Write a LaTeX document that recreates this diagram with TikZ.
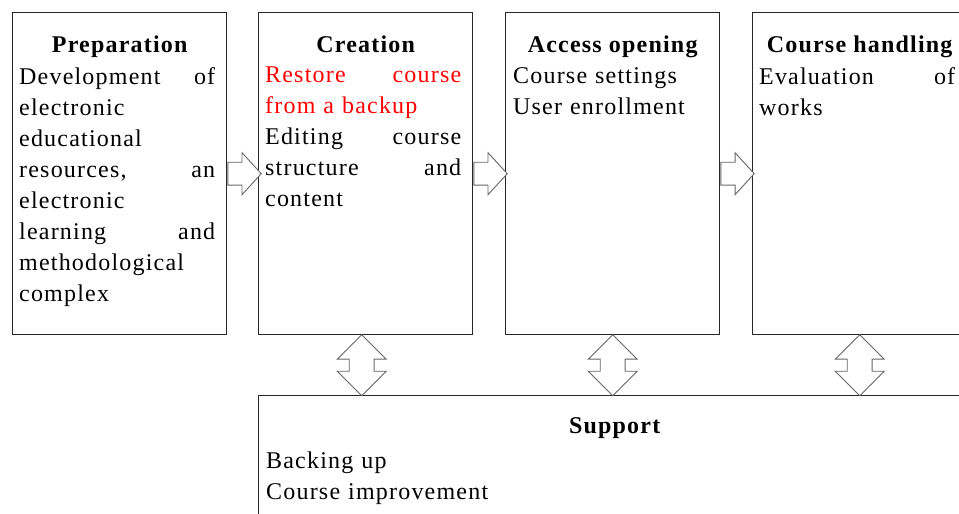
\documentclass[tikz,border=0pt]{standalone}
\usepackage{fontspec}
\setmainfont{Liberation Serif}[LetterSpace=5]
\usepackage{xcolor}
\usetikzlibrary{shapes.arrows,positioning,calc}
\colorlet{frameGray}{black!85}
\colorlet{arrowGray}{black!60}
\tikzset{
  % phase boxes
  stagebox/.style={
    draw=frameGray,
    fill=white,
    line width=1.4pt,
    minimum width=214pt,
    minimum height=322pt,
    inner sep=0pt,
    anchor=north west
  },
  headtext/.style={
    font=\fontsize{24pt}{31pt}\selectfont\bfseries,
    inner sep=0pt,
    anchor=base
  },
  bodytext/.style={
    font=\fontsize{24pt}{31pt}\selectfont,
    text width=196pt,
    align=left,
    inner sep=0pt,
    anchor=north west
  },
  % hollow block arrows between the boxes
  rarrow/.style={
    single arrow,
    draw=arrowGray,
    fill=white,
    line width=0.9pt,
    inner sep=11pt,
    single arrow head extend=9.5pt,
    single arrow tip angle=95,
    minimum height=33pt,
    anchor=tail
  },
  udarrow/.style={
    double arrow,
    draw=arrowGray,
    fill=white,
    line width=0.9pt,
    inner sep=12pt,
    double arrow head extend=12pt,
    double arrow tip angle=90,
    minimum height=61pt,
    rotate=90
  }
}
\begin{document}
\begin{tikzpicture}[x=1pt,y=-1pt]
\useasboundingbox (0,0) rectangle (959,514);
\fill[white] (0,0) rectangle (959,514);
\clip (0,0) rectangle (959,514);

\node[stagebox] (prep) at (12,12) {};
\node[stagebox] (create) at (258,12) {};
\node[stagebox] (access) at (505,12) {};
\node[stagebox] (handle) at (752,12) {};
\node[stagebox, minimum width=712pt, minimum height=140pt] (support) at (258,395) {};

% titles
\node[headtext] (preptitle) at ($(prep.north)+(0,40)$) {Preparation};
\node[headtext] (createtitle) at ($(create.north)+(0,40)$) {Creation};
\node[headtext] (accesstitle) at ($(access.north)+(0,40)$) {Access opening};
\node[headtext] (handletitle) at ($(handle.north)+(0,40)$) {Course handling};
\node[headtext] (supporttitle) at ($(support.north)+(0,38)$) {Support};

% contents
\node[bodytext] (prepbody) at ($(prep.north west)+(7,55)$)
{Development\hfill of\\
electronic\\
educational\\
resources,\hfill an\\
electronic\\
learning\hfill and\\
methodological\\
complex};
\node[bodytext] (createbody) at ($(create.north west)+(7,55)$)
{\textcolor{red}{Restore\hfill course}\\
\textcolor{red}{from a backup}\\
Editing\hfill course\\
structure\hfill and\\
content};
\node[bodytext] (accessbody) at ($(access.north west)+(8,55)$)
{Course settings\\
User enrollment};
\node[bodytext] (handlebody) at ($(handle.north west)+(7,55)$)
{Evaluation\hfill of\\
works};
\node[bodytext, text width=500pt] (supportbody) at ($(support.north west)+(8,57)$)
{Backing up\\
Course improvement};

% flow between phases
\node[rarrow] (a1) at (prep.east) {};
\node[rarrow] (a2) at (create.east) {};
\node[rarrow] (a3) at (access.east) {};

% links to support
\node[udarrow] (d1) at ($(create.south)!0.5!(create.south |- support.north)+(-4,0)$) {};
\node[udarrow] (d2) at ($(access.south)!0.5!(access.south |- support.north)$) {};
\node[udarrow] (d3) at ($(handle.south)!0.5!(handle.south |- support.north)$) {};

\end{tikzpicture}
\end{document}
